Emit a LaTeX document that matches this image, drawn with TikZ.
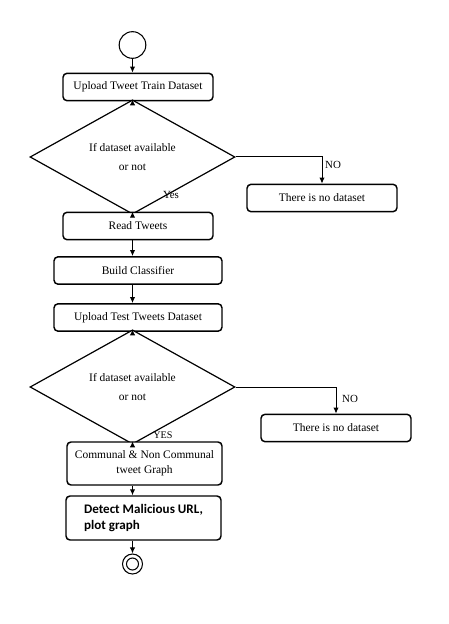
\documentclass[tikz,border=0pt]{standalone}
\usepackage{fontspec}
\setmainfont{Liberation Serif}
\newfontfamily\detectfont{Carlito}
\usetikzlibrary{arrows.meta,shapes.geometric}
\tikzset{
  tw/box/.style={
    draw=black,
    line width=1.1pt,
    rounded corners=3pt,
    fill=white,
    align=center,
    minimum width=112.5pt,
    minimum height=20.5pt,
    inner sep=2pt,
    font=\fontsize{8.6}{11.2}\selectfont
  },
  tw/decision/.style={
    diamond,
    draw=black,
    line width=0.9pt,
    fill=white,
    align=center,
    minimum width=153.75pt,
    minimum height=55.5pt,
    inner sep=0pt,
    font=\fontsize{8.6}{14.6}\selectfont
  },
  tw/arrow/.style={-{Latex[length=4.5pt,width=4pt]}, line width=0.75pt},
  tw/label/.style={font=\fontsize{8.2}{10}\selectfont, inner sep=0pt},
  tw/start/.style={circle, draw=black, line width=0.8pt, minimum size=20pt, inner sep=0pt},
  tw/stop/.style={circle, draw=black, line width=0.8pt, inner sep=0pt}
}
\begin{document}
\begin{tikzpicture}[x=0.75pt,y=-0.75pt]
  \useasboundingbox (0,0) rectangle (449,624);
  \coordinate (spine) at (132.5,0);
  \node[tw/start] (start) at (132.5,45) {};
  \node[tw/box] (train) at (138,87) {Upload Tweet Train Dataset};
  \node[tw/decision] (d1) at (132.5,157) {If dataset available\\or not};
  \node[tw/box] (nods1) at (322,198) {There is no dataset};
  \node[tw/box] (read) at (138,226) {Read Tweets};
  \node[tw/box, minimum width=126pt] (build) at (138,270.5) {Build Classifier};
  \node[tw/box, minimum width=126pt] (test) at (138,317.5) {Upload Test Tweets Dataset};
  \node[tw/decision] (d2) at (132.5,387) {If dataset available\\or not};
  \node[tw/box] (nods2) at (336,428) {There is no dataset};
  \node[tw/box, minimum width=116.25pt, minimum height=32.25pt] (comm) at (144.5,463.5) {Communal \& Non Communal\\tweet Graph};
  \node[tw/box, minimum width=116.25pt, minimum height=33pt, align=left,
        font=\detectfont\bfseries\fontsize{9.8}{11.3}\selectfont] (detect) at (143.5,518)
        {Detect Malicious URL,\hspace{14pt}\\plot graph};
  \node[tw/stop, minimum size=15pt] (stop) at (132.5,564) {};
  \node[tw/stop, minimum size=9pt] (stopin) at (132.5,564) {};
  \node[tw/label] (yes1) at (171,195) {Yes};
  \node[tw/label] (no1) at (333,165) {NO};
  \node[tw/label] (no2) at (350,399) {NO};
  \node[tw/label, font=\fontsize{7.6}{9}\selectfont] (yes2) at (163,435) {YES};
  \foreach \a/\bb in {start/train,train/d1,d1/read,read/build,build/test,test/d2,d2/comm,comm/detect,detect/stop}{\draw[tw/arrow] (\a.south -| spine) -- (\bb.north -| spine);}
  \draw[tw/arrow] (d1.east) -| (nods1.north);
  \draw[tw/arrow] (d2.east) -| (nods2.north);
\end{tikzpicture}
\end{document}
